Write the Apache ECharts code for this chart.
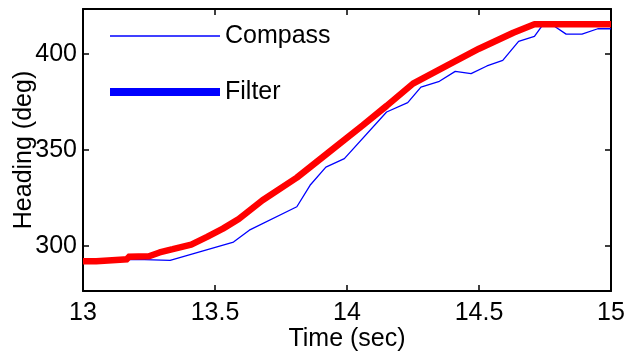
<!DOCTYPE html>
<html>
<head>
<meta charset="utf-8">
<script src="https://cdn.jsdelivr.net/npm/echarts@6/dist/echarts.min.js"></script>
<style>
    html, body { margin: 0; padding: 0; background: #fff; }
    #chart { width: 639px; height: 356px; }
</style>
</head>
<body>
<div id="chart"></div>
<script>
// 罗盘原始读数
const compassTime  = [13.00, 13.20, 13.33, 13.57, 13.63, 13.81, 13.86, 13.92, 13.99, 14.15, 14.23, 14.28, 14.35, 14.41, 14.47, 14.53, 14.59, 14.65, 14.71, 14.74, 14.78, 14.83, 14.89, 14.95, 15.00]
const compassValue = [292, 293, 292.5, 302, 308.2, 320.4, 331.6, 341.1, 345.5, 369.8, 374.7, 382.8, 385.8, 391.0, 389.8, 393.8, 396.7, 406.6, 409.2, 415, 415, 410.4, 410.4, 413.2, 413.2]

// 滤波后的航向
const filterTime  = [13.00, 13.05, 13.05, 13.17, 13.17, 13.25, 13.29, 13.34, 13.41, 13.47, 13.53, 13.59, 13.68, 13.81, 13.94, 14.06, 14.15, 14.25, 14.38, 14.50, 14.63, 14.71, 15.00]
const filterValue = [292, 292, 293, 293, 294.3, 294.6, 296.6, 298.3, 300.7, 304.7, 309, 314, 323.8, 335.6, 349.8, 362.9, 373, 384.6, 394.1, 402.8, 411.1, 415.5, 415.5]

// 刻度
const xTicks = [13, 13.5, 14, 14.5, 15]
const yTicks = [300, 350, 400]

const names = ['Compass', 'Filter']

!function(){

    const font = "'Liberation Sans', Arial, sans-serif"
    const size = 25
    const pairs = (xs, ys) => xs.map((x, i) => [x, ys[i]])

    // 公共坐标轴样式
    const lineCommon = { show: true, lineStyle: { color: '#000', width: 2 } }
    const tickCommon = { show: true, inside: true, length: 6, lineStyle: { color: '#000', width: 1.5 } }

    let chart = echarts.init(document.getElementById('chart'), null, { renderer: 'canvas' })

    let option = {
        animation: false,
        backgroundColor: '#fff',
        grid: { left: 83, right: 28, top: 9, bottom: 65, containLabel: false, outerBoundsMode: 'none' },
        legend: {
            orient: 'vertical',
            left: 106,
            top: 21,
            padding: 0,
            itemWidth: 110,
            itemHeight: 14,
            itemGap: 26,
            itemStyle: { opacity: 0 },   // 图例只画线，不画标记点
            textStyle: { fontFamily: font, fontSize: size, color: '#000', lineHeight: 30 },
            data: [
                { name: names[0], lineStyle: { color: '#0000ff', width: 1.3 } },
                { name: names[1], lineStyle: { color: '#0000ff', width: 8 } },
            ]
        },
        xAxis: [
            {
                type: 'value', min: 13, max: 15, interval: 0.5,
                name: 'Time (sec)', nameLocation: 'middle', nameGap: 36, nameMoveOverlap: false,
                nameTextStyle: { fontFamily: font, fontSize: size, color: '#000' },
                axisLine: lineCommon, axisTick: tickCommon,
                axisLabel: { fontFamily: font, fontSize: size, color: '#000', margin: 10,
                    customValues: xTicks, formatter: v => String(v) },
                splitLine: { show: false }
            },
            {
                type: 'value', position: 'top', min: 13, max: 15, interval: 0.5,
                axisLine: lineCommon, axisTick: tickCommon,
                axisLabel: { show: false }, splitLine: { show: false }
            }
        ],
        yAxis: [
            {
                type: 'value', min: 276.5, max: 423.5,
                name: 'Heading (deg)', nameLocation: 'middle', nameGap: 46, nameMoveOverlap: false,
                nameTextStyle: { fontFamily: font, fontSize: size, color: '#000' },
                axisLine: lineCommon,
                axisTick: Object.assign({}, tickCommon, { customValues: yTicks }),
                axisLabel: { fontFamily: font, fontSize: size, color: '#000', margin: 6,
                    customValues: yTicks },
                splitLine: { show: false }
            },
            {
                type: 'value', position: 'right', min: 276.5, max: 423.5,
                axisLine: lineCommon,
                axisTick: Object.assign({}, tickCommon, { customValues: yTicks }),
                axisLabel: { show: false }, splitLine: { show: false }
            }
        ],
        series: [
            {
                name: names[0], type: 'line', symbol: 'none',
                lineStyle: { color: '#0000ff', width: 1.3 },
                itemStyle: { color: '#0000ff' },
                data: pairs(compassTime, compassValue),
                z: 2
            },
            {
                name: names[1], type: 'line', symbol: 'none',
                lineStyle: { color: '#ff0000', width: 6.5 },
                itemStyle: { color: '#ff0000' },
                data: pairs(filterTime, filterValue),
                z: 3
            }
        ]
    }

    chart.setOption(option)

}()
</script>
</body>
</html>
